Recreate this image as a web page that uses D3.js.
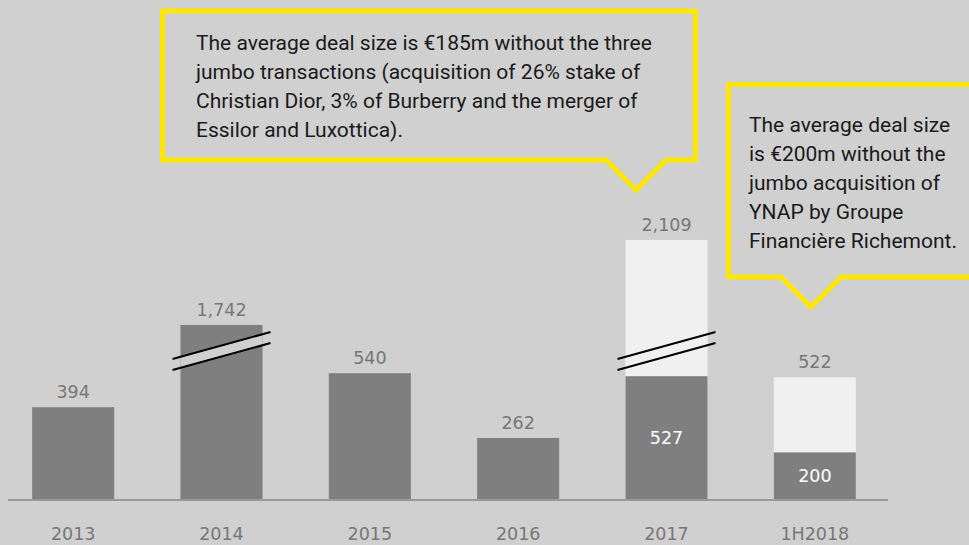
<!DOCTYPE html>
<html>
<head>
<meta charset="utf-8">
<script src="https://cdn.jsdelivr.net/npm/d3@7"></script>
<style>
  body { margin: 0; background: #d0d0d0; }
  svg { display: block; }
</style>
</head>
<body>
<svg id="chart" width="969" height="545"></svg>
<script>
// data
const years = ["2013", "2014", "2015", "2016", "2017", "1H2018"];
const totals = [394, 1742, 540, 262, 2109, 522];
// value without the jumbo deals (dark part of the stacked bars)
const withoutJumbo = [null, null, null, null, 527, 200];
// length the bar is actually drawn to (broken bars are cut short)
const drawnTotals = [394, 747, 540, 262, 1112, 522];
const broken = [false, true, false, false, true, false];
const breakAt = 635;

const notes = [
  ["The average deal size is €185m without the three",
   "jumbo transactions (acquisition of 26% stake of",
   "Christian Dior, 3% of Burberry and the merger of",
   "Essilor and Luxottica)."],
  ["The average deal size",
   "is €200m without the",
   "jumbo acquisition of",
   "YNAP by Groupe",
   "Financière Richemont."]
];

const bg = "#d0d0d0", dark = "#7f7f7f", light = "#f0f0f0", yellow = "#ffe600";
const numFont = "'DejaVu Sans', Verdana, sans-serif";

const svg = d3.select("#chart");
const W = +svg.attr("width"), H = +svg.attr("height");

svg.append("rect").attr("width", W).attr("height", H).attr("fill", bg);

const data = years.map((y, i) => ({
  year: y, total: totals[i], base: withoutJumbo[i], drawn: drawnTotals[i], broken: broken[i]
}));

const x = d3.scaleBand()
  .domain(years)
  .range([-1, 889])
  .paddingInner(0.447)
  .paddingOuter(0.2235);

const y = d3.scaleLinear().domain([0, 1000]).range([499, 266]);

// bars: full (light if stacked, dark otherwise)
svg.selectAll("rect.total")
  .data(data)
  .enter().append("rect")
    .attr("class", "total")
    .attr("x", d => x(d.year))
    .attr("y", d => y(d.drawn))
    .attr("width", x.bandwidth())
    .attr("height", d => y(0) - y(d.drawn))
    .attr("fill", d => d.base == null ? dark : light);

// dark part of stacked bars
const stacked = data.filter(d => d.base != null);
svg.selectAll("rect.base")
  .data(stacked)
  .enter().append("rect")
    .attr("class", "base")
    .attr("x", d => x(d.year))
    .attr("y", d => y(d.base))
    .attr("width", x.bandwidth())
    .attr("height", d => y(0) - y(d.base))
    .attr("fill", dark);

svg.selectAll("text.inner")
  .data(stacked)
  .enter().append("text")
    .attr("class", "inner")
    .attr("x", d => x(d.year) + x.bandwidth() / 2)
    .attr("y", d => (y(d.base) + y(0)) / 2 + 6)
    .attr("text-anchor", "middle")
    .style("font-family", numFont)
    .style("font-size", "17.5px")
    .attr("fill", "#ffffff")
    .text(d => d3.format(",")(d.base));

// break marks
const slope = -27 / 98, gap = 11, over = 8;
data.filter(d => d.broken).forEach(d => {
  const x0 = x(d.year), x1 = x0 + x.bandwidth();
  const cx = (x0 + x1) / 2;
  const yc = y(breakAt);
  const lineY = (xx, off) => yc + off + slope * (xx - cx);
  const up = -gap / 2, dn = gap / 2;
  svg.append("path")
    .attr("d", `M${x0},${lineY(x0, up)}L${x1},${lineY(x1, up)}L${x1},${lineY(x1, dn)}L${x0},${lineY(x0, dn)}Z`)
    .attr("fill", d.base == null ? bg : light);
  [up, dn].forEach(off => {
    svg.append("line")
      .attr("x1", x0 - over).attr("y1", lineY(x0 - over, off))
      .attr("x2", x1 + over).attr("y2", lineY(x1 + over, off))
      .attr("stroke", "#000").attr("stroke-width", 2);
  });
});

// value labels
svg.selectAll("text.value")
  .data(data)
  .enter().append("text")
    .attr("class", "value")
    .attr("x", d => x(d.year) + x.bandwidth() / 2)
    .attr("y", d => y(d.drawn) - 9)
    .attr("text-anchor", "middle")
    .style("font-family", numFont)
    .style("font-size", "17.5px")
    .attr("fill", "#777777")
    .text(d => d3.format(",")(d.total));

// baseline + categories
svg.append("line")
  .attr("x1", 8).attr("x2", 888)
  .attr("y1", y(0) + 1).attr("y2", y(0) + 1)
  .attr("stroke", "#999999").attr("stroke-width", 2);

svg.selectAll("text.cat")
  .data(years)
  .enter().append("text")
    .attr("class", "cat")
    .attr("x", d => x(d) + x.bandwidth() / 2)
    .attr("y", 540)
    .attr("text-anchor", "middle")
    .style("font-family", numFont)
    .style("font-size", "17.5px")
    .attr("fill", "#777777")
    .text(d => d);

// callouts
const boxes = [
  { l: 162.5, t: 11, r: 695.5, b: 160, tip: 636, tx: 196, ty: 50 },
  { l: 728.5, t: 84.5, r: 980, b: 277, tip: 811, tx: 749, ty: 131.5 }
];
boxes.forEach((bx, i) => {
  const h = 30;
  svg.append("path")
    .attr("d", `M${bx.l},${bx.t}L${bx.r},${bx.t}L${bx.r},${bx.b}L${bx.tip + h},${bx.b}` +
               `L${bx.tip},${bx.b + h}L${bx.tip - h},${bx.b}L${bx.l},${bx.b}Z`)
    .attr("fill", "none")
    .attr("stroke", yellow)
    .attr("stroke-width", 5)
    .attr("stroke-linejoin", "miter");

  const t = svg.append("text")
    .style("font-family", "Roboto, sans-serif")
    .style("font-size", "21px")
    .attr("fill", "#1a1a1a");
  notes[i].forEach((line, j) => {
    t.append("tspan")
      .attr("x", bx.tx)
      .attr("y", bx.ty + j * 29)
      .text(line);
  });
});
</script>
</body>
</html>
